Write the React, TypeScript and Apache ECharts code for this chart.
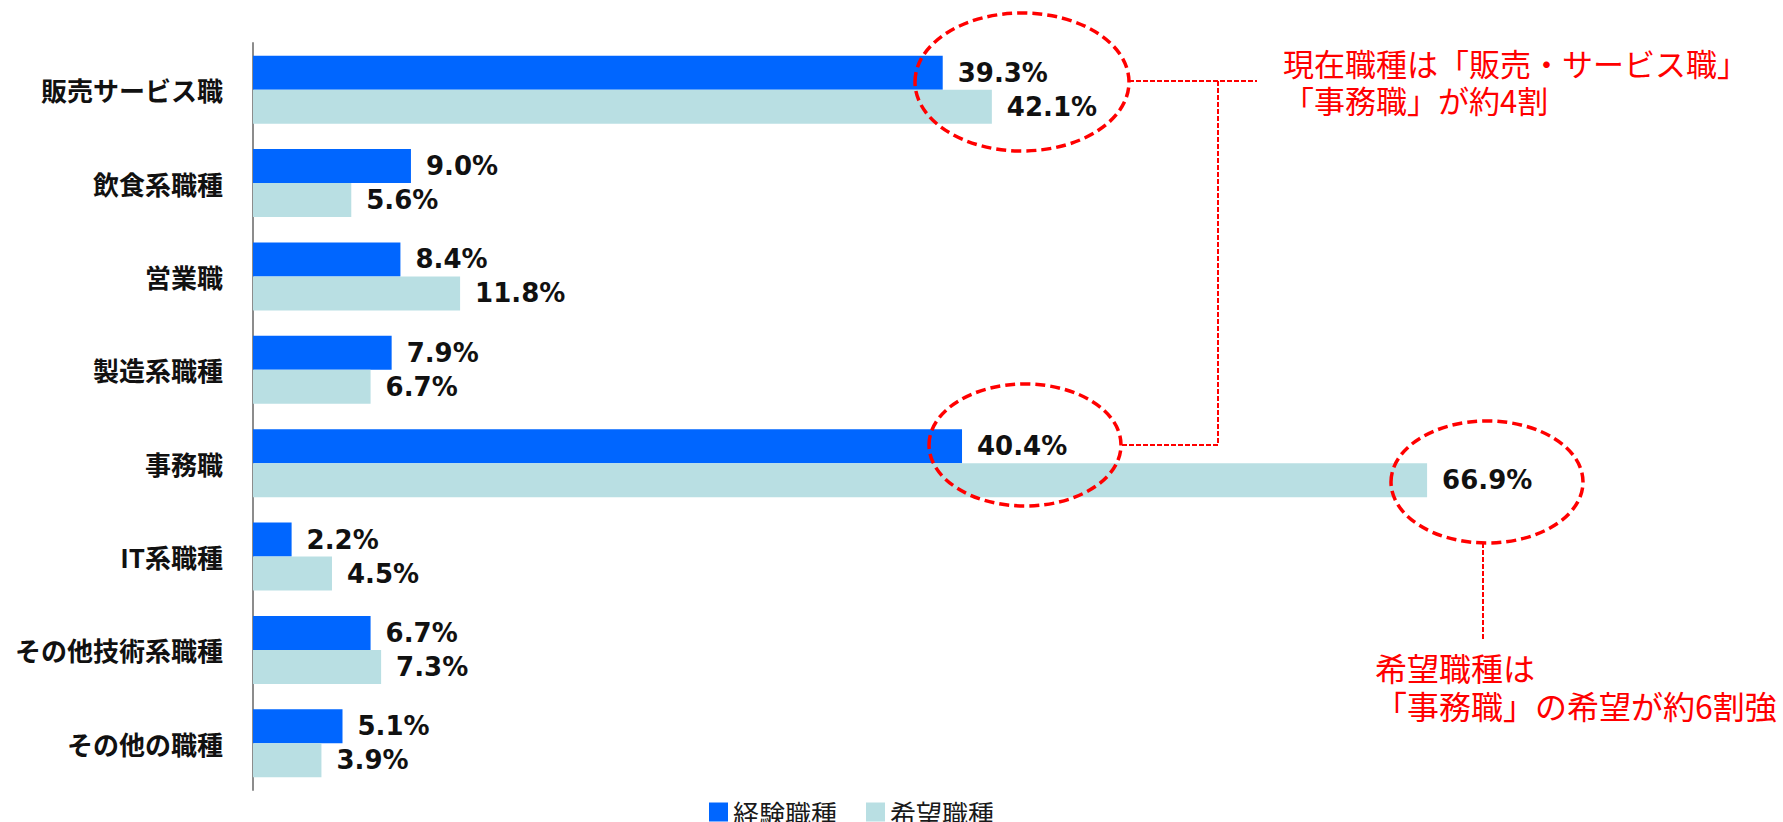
import React, { useEffect, useRef } from "react";
import * as echarts from "echarts";

const categories = [
  "販売サービス職",
  "飲食系職種",
  "営業職",
  "製造系職種",
  "事務職",
  "IT系職種",
  "その他技術系職種",
  "その他の職種",
];
const experienceValues = [39.3, 9.0, 8.4, 7.9, 40.4, 2.2, 6.7, 5.1];
const desiredValues = [42.1, 5.6, 11.8, 6.7, 66.9, 4.5, 7.3, 3.9];
const seriesNames = ["経験職種", "希望職種"];
const noteCurrent = ["現在職種は「販売・サービス職」", "「事務職」が約4割"];
const noteDesired = ["希望職種は", "「事務職」の希望が約6割強"];

const BLUE = "#0066FF";
const LIGHT = "#B9DFE3";
const RED = "#FF0000";
const CJK = "'Noto Sans CJK JP', 'Noto Sans', sans-serif";

export default function App() {
  const ref = useRef<HTMLDivElement>(null);

  useEffect(() => {
    if (!ref.current) return;
    const chart = echarts.init(ref.current, undefined, { renderer: "svg" });

    const valueLabel = {
      show: true,
      position: "right",
      distance: 15,
      fontFamily: "'DejaVu Sans', sans-serif",
      fontWeight: "bold",
      fontSize: 26,
      color: "#111",
      formatter: (p: any) => Number(p.value).toFixed(1) + "%",
    };

    const ellipseStyle = {
      fill: "none",
      stroke: RED,
      lineWidth: 3.5,
      lineDash: [10, 5],
    };
    const connStyle = {
      fill: "none",
      stroke: RED,
      lineWidth: 2,
      lineDash: [5, 2],
    };
    const noteText = (text: string, x: number, y: number, size: number) => ({
      type: "text",
      x,
      y,
      z: 100,
      style: {
        text,
        fill: RED,
        fontFamily: CJK,
        fontSize: size,
        fontWeight: "normal",
        align: "left",
        verticalAlign: "middle",
      },
    });

    chart.setOption({
      animation: false,
      backgroundColor: "#fff",
      grid: {
        left: 253,
        top: 43,
        width: 1404,
        height: 747,
        containLabel: false,
      },
      xAxis: {
        type: "value",
        min: 0,
        max: 80,
        show: false,
        splitLine: { show: false },
      },
      yAxis: {
        type: "category",
        data: categories,
        inverse: true,
        axisLine: { show: true, lineStyle: { color: "#8c8c8c", width: 2 } },
        axisTick: { show: false },
        axisLabel: {
          margin: 30,
          fontFamily: CJK,
          fontWeight: "bold",
          fontSize: 26,
          color: "#111",
        },
      },
      legend: {
        data: seriesNames,
        left: 704,
        top: 794,
        icon: "rect",
        itemWidth: 19,
        itemHeight: 19,
        itemGap: 29,
        textStyle: {
          fontFamily: CJK,
          fontSize: 26,
          color: "#1a1a1a",
        },
      },
      series: [
        {
          name: seriesNames[0],
          type: "bar",
          data: experienceValues,
          barWidth: 34,
          barGap: "0%",
          itemStyle: { color: BLUE },
          label: valueLabel,
        },
        {
          name: seriesNames[1],
          type: "bar",
          data: desiredValues,
          barWidth: 34,
          barGap: "0%",
          itemStyle: { color: LIGHT },
          label: valueLabel,
        },
      ],
      graphic: [
        { type: "ellipse", z: 100, shape: { cx: 1022, cy: 82, rx: 107, ry: 69 }, style: ellipseStyle },
        { type: "ellipse", z: 100, shape: { cx: 1025, cy: 445, rx: 96, ry: 61 }, style: ellipseStyle },
        { type: "ellipse", z: 100, shape: { cx: 1487, cy: 482, rx: 96, ry: 61 }, style: ellipseStyle },
        { type: "line", z: 100, shape: { x1: 1129, y1: 81, x2: 1257, y2: 81 }, style: connStyle },
        {
          type: "polyline",
          z: 100,
          shape: { points: [[1218, 81], [1218, 445], [1121, 445]] },
          style: connStyle,
        },
        { type: "line", z: 100, shape: { x1: 1483, y1: 543, x2: 1483, y2: 640 }, style: connStyle },
        noteText(noteCurrent[0], 1283, 62, 31),
        noteText(noteCurrent[1], 1283, 99, 31),
        noteText(noteDesired[0], 1375, 667, 32),
        noteText(noteDesired[1], 1375, 705, 32),
      ],
    });

    return () => chart.dispose();
  }, []);

  return (
    <div
      ref={ref}
      style={{ position: "fixed", left: 0, top: 0, width: 1783, height: 822, background: "#fff" }}
    />
  );
}
